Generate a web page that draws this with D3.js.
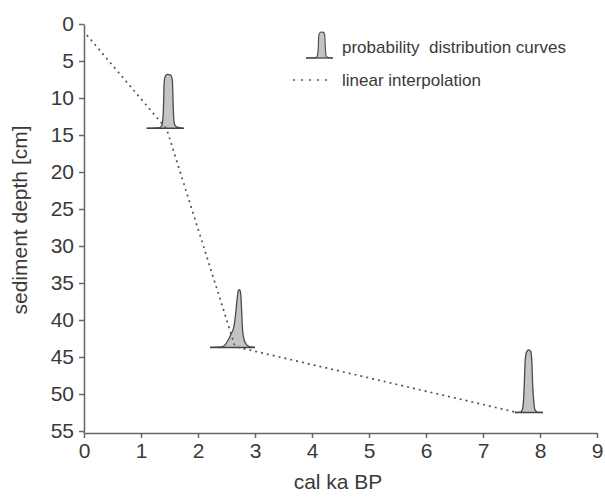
<!DOCTYPE html>
<html>
<head>
<meta charset="utf-8">
<script src="https://cdn.jsdelivr.net/npm/d3@7"></script>
<style>
  body { margin: 0; background: #fff; }
  svg { display: block; font-family: "Liberation Sans", Arial, sans-serif; }
</style>
</head>
<body>
<div id="chart"></div>
<script>
// Ticks
const xTicks = [0, 1, 2, 3, 4, 5, 6, 7, 8, 9];
const yTicks = [0, 5, 10, 15, 20, 25, 30, 35, 40, 45, 50, 55];

// Linear interpolation (age in cal ka BP, depth in cm)
const interpAge = [0.05, 1.45, 2.65, 7.6];
const interpDepth = [1.5, 14.2, 43.6, 52.5];

// Probability distribution curves: base depth + profile [age, height above base in cm]
const curveBase = [14.1, 43.7, 52.5];
const curve1 = [[1.10, 0], [1.30, 0.05], [1.36, 0.3], [1.38, 1.0], [1.395, 3], [1.405, 6.0], [1.42, 6.9],
  [1.46, 7.3], [1.52, 7.2], [1.55, 6.5], [1.565, 3], [1.58, 0.8], [1.62, 0.2], [1.75, 0]];
const curve2 = [[2.21, 0], [2.40, 0.05], [2.47, 0.3], [2.53, 1.0], [2.58, 1.8], [2.63, 2.8], [2.66, 4.5],
  [2.69, 6.8], [2.71, 7.7], [2.73, 7.8], [2.75, 7.2], [2.765, 5], [2.78, 2.5], [2.81, 1.0], [2.86, 0.3],
  [2.92, 0.05], [3.0, 0]];
const curve3 = [[7.56, 0], [7.66, 0.05], [7.69, 0.4], [7.71, 1.5], [7.725, 4], [7.74, 7], [7.765, 8.2],
  [7.80, 8.45], [7.835, 8.3], [7.855, 7.2], [7.87, 4], [7.89, 1.5], [7.91, 0.4], [7.95, 0.05], [8.05, 0]];
const curves = [curve1, curve2, curve3];

const legendLabels = ["probability  distribution curves", "linear interpolation"];

const W = 605, H = 497;
const svg = d3.select("#chart").append("svg").attr("width", W).attr("height", H);

const x = d3.scaleLinear().domain([0, 9]).range([84, 597]);
const y = d3.scaleLinear().domain([0, 55]).range([24, 431]);
const axisY = 433;
const axisColor = "#666";
const textColor = "#3a3a3a";

// Axes
const gx = svg.append("g").attr("transform", `translate(0,${axisY})`)
  .call(d3.axisBottom(x).tickValues(xTicks).tickSize(5).tickSizeOuter(0).tickPadding(5));
const gy = svg.append("g").attr("transform", `translate(${x(0)},0)`)
  .call(d3.axisLeft(y).tickValues(yTicks).tickSize(5).tickSizeOuter(0).tickPadding(5));
[gx, gy].forEach(g => {
  g.select(".domain").attr("stroke", axisColor).attr("stroke-width", 1.5);
  g.selectAll(".tick line").attr("stroke", axisColor).attr("stroke-width", 1.5);
  g.selectAll(".tick text").attr("fill", textColor).style("font-size", "21px");
});
svg.append("line").attr("x1", x(0)).attr("x2", x(0)).attr("y1", y(55)).attr("y2", axisY)
  .attr("stroke", axisColor).attr("stroke-width", 1.5);

// Axis titles
svg.append("text").attr("x", 338).attr("y", 489).attr("text-anchor", "middle")
  .attr("fill", textColor).style("font-size", "21px").text("cal ka BP");
svg.append("text").attr("transform", "translate(27,220) rotate(-90)").attr("text-anchor", "middle")
  .attr("fill", textColor).style("font-size", "21px").text("sediment depth [cm]");

// Distribution curves
curves.forEach((c, i) => {
  const base = curveBase[i];
  const area = d3.area().curve(d3.curveMonotoneX)
    .x(d => x(d[0])).y0(y(base)).y1(d => y(base - d[1]));
  const line = d3.line().curve(d3.curveMonotoneX)
    .x(d => x(d[0])).y(d => y(base - d[1]));
  svg.append("path").attr("d", area(c)).attr("fill", "#c4c4c4");
  svg.append("path").attr("d", line(c)).attr("fill", "none").attr("stroke", "#4a4a4a").attr("stroke-width", 1.3);
  svg.append("line").attr("x1", x(c[0][0])).attr("x2", x(c[c.length - 1][0]))
    .attr("y1", y(base)).attr("y2", y(base)).attr("stroke", "#444").attr("stroke-width", 1.5);
});

// Interpolation line
const interp = interpAge.map((a, i) => [a, interpDepth[i]]);
svg.append("path")
  .attr("d", d3.line().x(d => x(d[0])).y(d => y(d[1]))(interp))
  .attr("fill", "none").attr("stroke", "#555").attr("stroke-width", 1.7)
  .attr("stroke-dasharray", "2,4");

// Legend
const legend = svg.append("g");
const lx = d3.scaleLinear().domain([curve1[0][0], curve1[curve1.length - 1][0]]).range([306, 333]);
const lh = d3.scaleLinear().domain([0, 7.3]).range([58, 32]);
legend.append("path")
  .attr("d", d3.area().curve(d3.curveMonotoneX).x(d => lx(d[0])).y0(lh(0)).y1(d => lh(d[1]))(curve1))
  .attr("fill", "#c4c4c4");
legend.append("path")
  .attr("d", d3.line().curve(d3.curveMonotoneX).x(d => lx(d[0])).y(d => lh(d[1]))(curve1))
  .attr("fill", "none").attr("stroke", "#4a4a4a").attr("stroke-width", 1.1);
legend.append("line").attr("x1", 306).attr("x2", 333).attr("y1", 58).attr("y2", 58)
  .attr("stroke", "#444").attr("stroke-width", 1.3);
legend.append("line").attr("x1", 293).attr("x2", 333).attr("y1", 80).attr("y2", 80)
  .attr("stroke", "#555").attr("stroke-width", 1.7).attr("stroke-dasharray", "2,6");
legend.selectAll("text.lab").data(legendLabels).enter().append("text")
  .attr("x", 342).attr("y", (d, i) => 53 + i * 33)
  .attr("fill", textColor).style("font-size", "17px").style("white-space", "pre")
  .attr("xml:space", "preserve")
  .text(d => d);
</script>
</body>
</html>
